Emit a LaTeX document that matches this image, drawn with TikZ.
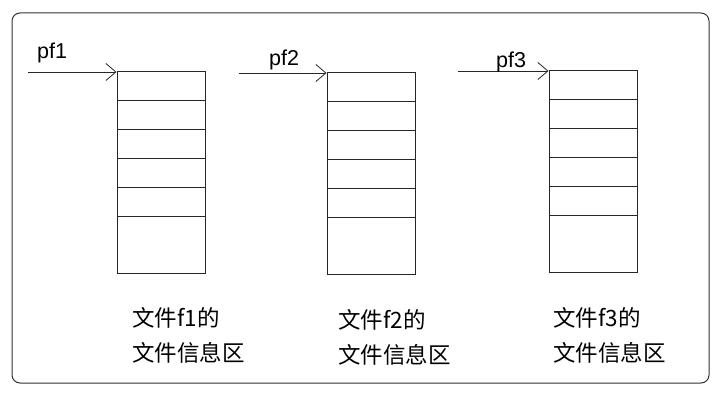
\documentclass[tikz,border=0pt]{standalone}
\usepackage{fontspec}
\setmainfont{Liberation Sans}
\newfontfamily\cjk{Noto Sans CJK SC}
\usetikzlibrary{arrows.meta}
\tikzset{
  stackbox/.style={draw=black!85, line width=1pt, minimum width=88pt, minimum height=201pt, inner sep=0pt, outer sep=0pt, anchor=north west},
  rowline/.style={draw=black!85, line width=1pt},
  ptr/.style={draw=black!85, line width=0.9pt, -{Straight Barb[length=10pt,width=17pt,line width=0.8pt]}, shorten >=0.5pt},
  ptrlabel/.style={font=\fontsize{21.5}{24}\selectfont, inner sep=0pt, anchor=base west},
  caption/.style={font=\cjk\fontsize{22.5}{35}\selectfont, inner sep=0pt, anchor=west, align=left},
}
\begin{document}
\begin{tikzpicture}[x=1pt,y=-1pt]
\useasboundingbox (0,0) rectangle (725,406);
\fill[white] (0,0) rectangle (725,406);
\draw[rounded corners=8pt, draw=black!80, line width=1pt] (12,13) rectangle (709,383);
% stacks
\node[stackbox] (s1) at (117,72) {};
\node[stackbox] (s2) at (327,73) {};
\node[stackbox] (s3) at (549,71) {};
\foreach \s in {s1,s2,s3}{
  \foreach \k in {1,...,5}{
    \draw[rowline] (\s.north west) ++(0,28.8*\k) -- ++(88,0);
  }
}
% pointers
\coordinate (a1) at (28,72);
\coordinate (a2) at (239,73);
\coordinate (a3) at (458,71);
\draw[ptr] (a1) -- (s1.north west);
\draw[ptr] (a2) -- (s2.north west);
\draw[ptr] (a3) -- (s3.north west);
\node[ptrlabel] (p1) at (37,59) {pf1};
\node[ptrlabel] (p2) at (269,66) {pf2};
\node[ptrlabel] (p3) at (496,68) {pf3};
% captions
\node[caption] (c1) at (132,335) {文件f1的\\文件信息区};
\node[caption] (c2) at (338,337) {文件f2的\\文件信息区};
\node[caption] (c3) at (553,335) {文件f3的\\文件信息区};
\end{tikzpicture}
\end{document}
